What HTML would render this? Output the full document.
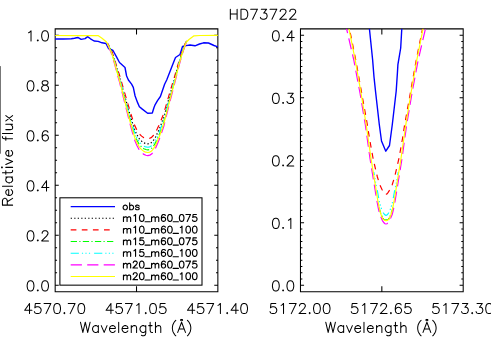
<!DOCTYPE html>
<html lang="en"><head><meta charset="utf-8"><title>HD73722</title>
<style>
html,body{margin:0;padding:0;width:491px;height:350px;overflow:hidden;background:#fff;font-family:"Liberation Sans",sans-serif}
svg{display:block}
.ax{fill:none;stroke:#000;stroke-width:1.05}
.t{fill:none;stroke:#000;stroke-width:1.03;stroke-linecap:round;stroke-linejoin:round}
.lt{fill:none;stroke:#000;stroke-width:1.15;stroke-linecap:round;stroke-linejoin:round}
.c{fill:none;stroke-width:1.2;stroke-linejoin:round}
</style></head>
<body>
<svg width="491" height="350" viewBox="0 0 491 350">
<rect width="491" height="350" fill="#fff"/>
<defs><clipPath id="cl"><rect x="55.17" y="28.86" width="162.69" height="262.89"/></clipPath><clipPath id="cr"><rect x="300.47" y="28.86" width="162.73" height="262.89"/></clipPath></defs>
<rect x="0" y="66.1" width="1" height="87.6" fill="#777"/>
<path class="ax" d="M55.17 28.86 H217.86 V291.75 H55.17 ZM136.52 291.75 L136.52 286.15M136.52 28.86 L136.52 34.46M300.47 28.86 H463.20 V291.75 H300.47 ZM381.84 291.75 L381.84 286.15M381.84 28.86 L381.84 34.46M55.17 285.30 L58.77 285.30M217.86 285.30 L214.26 285.30M55.17 272.80 L57.07 272.80M217.86 272.80 L215.96 272.80M55.17 260.30 L57.07 260.30M217.86 260.30 L215.96 260.30M55.17 247.80 L57.07 247.80M217.86 247.80 L215.96 247.80M55.17 235.30 L58.77 235.30M217.86 235.30 L214.26 235.30M55.17 222.80 L57.07 222.80M217.86 222.80 L215.96 222.80M55.17 210.30 L57.07 210.30M217.86 210.30 L215.96 210.30M55.17 197.80 L57.07 197.80M217.86 197.80 L215.96 197.80M55.17 185.30 L58.77 185.30M217.86 185.30 L214.26 185.30M55.17 172.80 L57.07 172.80M217.86 172.80 L215.96 172.80M55.17 160.30 L57.07 160.30M217.86 160.30 L215.96 160.30M55.17 147.80 L57.07 147.80M217.86 147.80 L215.96 147.80M55.17 135.30 L58.77 135.30M217.86 135.30 L214.26 135.30M55.17 122.80 L57.07 122.80M217.86 122.80 L215.96 122.80M55.17 110.30 L57.07 110.30M217.86 110.30 L215.96 110.30M55.17 97.80 L57.07 97.80M217.86 97.80 L215.96 97.80M55.17 85.30 L58.77 85.30M217.86 85.30 L214.26 85.30M55.17 72.80 L57.07 72.80M217.86 72.80 L215.96 72.80M55.17 60.30 L57.07 60.30M217.86 60.30 L215.96 60.30M55.17 47.80 L57.07 47.80M217.86 47.80 L215.96 47.80M55.17 35.30 L58.77 35.30M217.86 35.30 L214.26 35.30M300.47 285.30 L304.07 285.30M463.20 285.30 L459.60 285.30M300.47 279.05 L302.37 279.05M463.20 279.05 L461.30 279.05M300.47 272.80 L302.37 272.80M463.20 272.80 L461.30 272.80M300.47 266.55 L302.37 266.55M463.20 266.55 L461.30 266.55M300.47 260.30 L302.37 260.30M463.20 260.30 L461.30 260.30M300.47 254.05 L302.37 254.05M463.20 254.05 L461.30 254.05M300.47 247.80 L302.37 247.80M463.20 247.80 L461.30 247.80M300.47 241.55 L302.37 241.55M463.20 241.55 L461.30 241.55M300.47 235.30 L302.37 235.30M463.20 235.30 L461.30 235.30M300.47 229.05 L302.37 229.05M463.20 229.05 L461.30 229.05M300.47 222.80 L304.07 222.80M463.20 222.80 L459.60 222.80M300.47 216.55 L302.37 216.55M463.20 216.55 L461.30 216.55M300.47 210.30 L302.37 210.30M463.20 210.30 L461.30 210.30M300.47 204.05 L302.37 204.05M463.20 204.05 L461.30 204.05M300.47 197.80 L302.37 197.80M463.20 197.80 L461.30 197.80M300.47 191.55 L302.37 191.55M463.20 191.55 L461.30 191.55M300.47 185.30 L302.37 185.30M463.20 185.30 L461.30 185.30M300.47 179.05 L302.37 179.05M463.20 179.05 L461.30 179.05M300.47 172.80 L302.37 172.80M463.20 172.80 L461.30 172.80M300.47 166.55 L302.37 166.55M463.20 166.55 L461.30 166.55M300.47 160.30 L304.07 160.30M463.20 160.30 L459.60 160.30M300.47 154.05 L302.37 154.05M463.20 154.05 L461.30 154.05M300.47 147.80 L302.37 147.80M463.20 147.80 L461.30 147.80M300.47 141.55 L302.37 141.55M463.20 141.55 L461.30 141.55M300.47 135.30 L302.37 135.30M463.20 135.30 L461.30 135.30M300.47 129.05 L302.37 129.05M463.20 129.05 L461.30 129.05M300.47 122.80 L302.37 122.80M463.20 122.80 L461.30 122.80M300.47 116.55 L302.37 116.55M463.20 116.55 L461.30 116.55M300.47 110.30 L302.37 110.30M463.20 110.30 L461.30 110.30M300.47 104.05 L302.37 104.05M463.20 104.05 L461.30 104.05M300.47 97.80 L304.07 97.80M463.20 97.80 L459.60 97.80M300.47 91.55 L302.37 91.55M463.20 91.55 L461.30 91.55M300.47 85.30 L302.37 85.30M463.20 85.30 L461.30 85.30M300.47 79.05 L302.37 79.05M463.20 79.05 L461.30 79.05M300.47 72.80 L302.37 72.80M463.20 72.80 L461.30 72.80M300.47 66.55 L302.37 66.55M463.20 66.55 L461.30 66.55M300.47 60.30 L302.37 60.30M463.20 60.30 L461.30 60.30M300.47 54.05 L302.37 54.05M463.20 54.05 L461.30 54.05M300.47 47.80 L302.37 47.80M463.20 47.80 L461.30 47.80M300.47 41.55 L302.37 41.55M463.20 41.55 L461.30 41.55M300.47 35.30 L304.07 35.30M463.20 35.30 L459.60 35.30"/>
<g clip-path="url(#cl)">
<path class="c" style="stroke-width:1.4" stroke="#0000ff" d="M55.00 39.00 L63.00 39.00 L71.30 38.75 L74.50 38.20 L77.80 37.45 L81.10 39.40 L85.10 38.60 L87.60 36.60 L90.50 38.80 L94.10 41.00 L98.20 41.40 L102.00 42.80 L106.00 43.50 L108.50 48.50 L113.00 50.50 L116.50 56.80 L119.50 62.50 L125.00 67.50 L126.60 76.00 L128.40 80.00 L131.60 84.20 L133.30 87.30 L135.10 96.00 L137.70 102.90 L139.40 106.70 L142.00 108.90 L147.60 113.20 L152.30 113.00 L154.00 107.50 L155.20 104.60 L157.50 100.60 L160.40 96.50 L164.60 84.20 L166.70 80.00 L173.50 62.50 L175.50 57.50 L180.00 54.50 L182.50 46.50 L186.00 45.60 L190.00 45.00 L195.00 45.80 L199.50 44.00 L203.50 42.80 L208.50 43.00 L214.00 45.50 L218.10 46.90"/>
<path class="c" stroke="#000000" stroke-dasharray="1.3 2.2" stroke-dashoffset="1.34" d="M107.50 43.36 L109.00 46.14 L112.00 52.62 L114.50 60.49 L117.50 70.68 L119.40 76.70 L123.50 91.52 L127.11 104.48 L130.74 117.44 L132.79 123.93 L134.76 130.13 L136.97 134.85 L139.34 138.83 L141.62 141.15 L143.88 142.82 L145.88 143.56 L147.90 143.83 L149.83 143.46 L151.61 142.45 L153.53 140.22 L155.46 137.26 L157.42 133.19 L159.52 128.56 L161.56 123.28 L163.72 117.44 L170.00 94.66 L175.10 76.70 L178.50 64.20 L180.30 58.18 L183.00 49.85 L185.70 42.90 L186.50 41.51 L186.80 41.23"/>
<path class="c" stroke="#ff0000" stroke-dasharray="5.7 5.4" stroke-dashoffset="2.83" d="M107.50 42.99 L109.00 45.63 L112.00 51.81 L114.50 59.30 L117.50 69.00 L119.40 74.74 L123.50 88.85 L127.11 101.20 L130.74 113.55 L132.79 119.72 L134.76 125.63 L136.97 130.13 L139.34 133.92 L141.62 136.12 L143.88 137.71 L145.88 138.42 L147.90 138.68 L149.83 138.33 L151.61 137.36 L153.53 135.24 L155.46 132.42 L157.42 128.54 L159.52 124.13 L161.56 119.10 L163.72 113.55 L170.00 91.85 L175.10 74.74 L178.50 62.83 L180.30 57.10 L183.00 49.16 L185.70 42.54 L186.50 41.22 L186.80 40.96"/>
<path class="c" stroke="#00ff00" stroke-dasharray="6.3 2.3 1.2 2.3" stroke-dashoffset="9.68" d="M107.50 43.80 L109.00 46.73 L112.00 53.57 L114.50 61.88 L117.50 72.62 L119.40 78.97 L123.50 94.61 L127.11 108.28 L130.74 121.96 L132.79 128.80 L134.76 135.35 L136.97 140.33 L139.34 144.53 L141.62 146.97 L143.88 148.73 L145.88 149.51 L147.90 149.81 L149.83 149.42 L151.61 148.34 L153.53 146.00 L155.46 142.87 L157.42 138.57 L159.52 133.69 L161.56 128.12 L163.72 121.96 L170.00 97.93 L175.10 78.97 L178.50 65.78 L180.30 59.43 L183.00 50.64 L185.70 43.31 L186.50 41.85 L186.80 41.56"/>
<path class="c" stroke="#00ffff" stroke-dasharray="8.2 3 1.2 2.3 1.2 2.3 1.2 4.0" stroke-dashoffset="7.01" d="M107.50 43.61 L109.00 46.48 L112.00 53.16 L114.50 61.28 L117.50 71.79 L119.40 77.99 L123.50 93.27 L127.11 106.64 L130.74 120.01 L132.79 126.70 L134.76 133.10 L136.97 137.97 L139.34 142.07 L141.62 144.46 L143.88 146.18 L145.88 146.94 L147.90 147.23 L149.83 146.85 L151.61 145.80 L153.53 143.51 L155.46 140.45 L157.42 136.25 L159.52 131.47 L161.56 126.03 L163.72 120.01 L170.00 96.52 L175.10 77.99 L178.50 65.10 L180.30 58.89 L183.00 50.30 L185.70 43.14 L186.50 41.70 L186.80 41.42"/>
<path class="c" stroke="#ff00ff" stroke-dasharray="11.2 5.3" stroke-dashoffset="0.10" d="M107.50 44.55 L108.85 47.30 L111.86 54.48 L114.37 63.20 L117.38 74.49 L119.29 81.16 L123.40 97.58 L127.03 111.94 L130.67 126.30 L132.73 133.49 L134.71 140.36 L136.93 145.59 L139.31 150.00 L141.60 152.57 L143.87 154.42 L145.87 155.24 L147.90 155.54 L149.84 155.13 L151.62 154.01 L153.56 151.54 L155.49 148.26 L157.46 143.75 L159.56 138.62 L161.61 132.77 L163.79 126.30 L170.09 101.06 L175.21 81.16 L178.62 67.31 L180.43 60.64 L183.14 51.41 L185.85 43.71 L186.66 42.17 L186.80 42.02"/>
<path class="c" stroke="#ffff00" d="M55.00 35.50 L80.00 35.55 L98.00 35.55 L102.00 38.20 L106.50 42.00 L109.00 47.00 L112.00 54.00 L114.50 62.50 L117.50 73.50 L119.40 80.00 L123.50 96.00 L127.11 110.00 L130.74 124.00 L132.79 131.00 L134.76 137.70 L136.97 142.80 L139.34 147.10 L141.62 149.60 L143.88 151.40 L145.88 152.20 L147.90 152.50 L149.83 152.10 L151.61 151.00 L153.53 148.60 L155.46 145.40 L157.42 141.00 L159.52 136.00 L161.56 130.30 L163.72 124.00 L170.00 99.40 L175.10 80.00 L178.50 66.50 L180.30 60.00 L183.00 51.00 L185.70 43.50 L186.50 42.00 L189.00 39.50 L194.00 35.80 L200.00 35.50 L218.10 35.40"/>
</g>
<g clip-path="url(#cr)">
<path class="c" style="stroke-width:1.4" stroke="#0000ff" d="M369.40 28.50 L372.60 59.50 L374.00 77.00 L375.60 92.00 L379.30 124.50 L381.50 141.00 L385.80 151.20 L389.50 145.50 L392.30 124.50 L396.20 91.00 L397.40 73.00 L397.90 64.60 L400.70 48.00 L401.80 28.50"/>
<path class="c" stroke="#000000" stroke-dasharray="1.3 2.2" stroke-dashoffset="0.87" d="M381.70 216.00 L382.25 217.40 L383.55 219.40 L384.85 220.30 L386.00 220.40 L387.15 220.30 L388.45 219.40 L389.75 217.40 L390.30 216.00"/>
<path class="c" stroke="#ff0000" stroke-dasharray="5.7 5.4" stroke-dashoffset="6.70" d="M349.40 28.50 L355.75 60.00 L361.65 93.00 L367.40 125.00 L369.40 138.00 L371.90 152.00 L373.10 158.50 L374.80 166.00 L377.40 177.00 L379.90 185.00 L382.00 189.50 L384.00 192.60 L385.00 193.90 L386.00 194.30 L387.00 193.90 L388.00 192.60 L390.00 189.50 L392.10 185.00 L394.60 177.00 L397.20 166.00 L398.90 158.50 L400.10 152.00 L402.60 138.00 L404.60 125.00 L410.35 93.00 L416.25 60.00 L422.60 28.50"/>
<path class="c" stroke="#00ff00" stroke-dasharray="6.3 2.3 1.2 2.3" stroke-dashoffset="9.44" d="M378.69 205.00 L379.60 209.60 L381.15 214.60 L382.30 217.40 L383.70 219.20 L386.00 220.25 L388.30 219.20 L389.70 217.40 L390.85 214.60 L392.40 209.60 L393.31 205.00"/>
<path class="c" stroke="#00ffff" stroke-dasharray="8.2 3 1.2 2.3 1.2 2.3 1.2 4.0" stroke-dashoffset="5.02" d="M373.79 172.00 L376.10 185.00 L377.60 192.00 L379.40 202.00 L380.60 206.30 L381.90 210.00 L383.40 213.00 L384.80 214.80 L386.00 215.40 L387.20 214.80 L388.60 213.00 L390.10 210.00 L391.40 206.30 L392.60 202.00 L394.40 192.00 L395.90 185.00 L398.21 172.00"/>
<path class="c" stroke="#ff00ff" stroke-dasharray="11.2 5.3" stroke-dashoffset="6.41" d="M346.50 28.50 L353.80 60.00 L360.00 93.00 L365.35 125.00 L370.00 158.50 L374.30 185.00 L376.90 201.00 L378.60 209.60 L379.80 214.60 L381.10 217.60 L382.40 220.60 L384.00 222.80 L385.00 223.70 L386.00 224.00 L387.00 223.70 L388.00 222.80 L389.60 220.60 L390.90 217.60 L392.20 214.60 L393.40 209.60 L395.10 201.00 L397.70 185.00 L402.00 158.50 L406.65 125.00 L412.00 93.00 L418.20 60.00 L425.50 28.50"/>
<path class="c" stroke="#ffff00" d="M348.90 28.50 L355.20 60.00 L361.00 93.00 L366.25 125.00 L371.00 158.50 L375.30 185.00 L377.70 200.00 L379.60 209.60 L381.00 214.60 L382.10 217.40 L383.40 219.40 L384.70 220.30 L386.00 220.60 L387.30 220.30 L388.60 219.40 L389.90 217.40 L391.00 214.60 L392.40 209.60 L394.30 200.00 L396.70 185.00 L401.00 158.50 L405.75 125.00 L411.00 93.00 L416.80 60.00 L423.10 28.50"/>
</g>
<rect x="59.90" y="197.80" width="142.10" height="87.35" fill="#fff" stroke="#000" stroke-width="1.05"/>
<path class="c" style="stroke-width:1.1" stroke="#0000ff" d="M70.7 206.60 H115"/>
<path class="c" style="stroke-width:1.1" stroke="#000000" stroke-dasharray="1.3 2.2" d="M70.7 218.25 H115"/>
<path class="c" style="stroke-width:1.1" stroke="#ff0000" stroke-dasharray="5.7 5.4" d="M70.7 229.90 H115"/>
<path class="c" style="stroke-width:1.1" stroke="#00ff00" stroke-dasharray="6.3 2.3 1.2 2.3" d="M70.7 241.55 H115"/>
<path class="c" style="stroke-width:1.1" stroke="#00ffff" stroke-dasharray="8.2 3 1.2 2.3 1.2 2.3 1.2 4.0" d="M70.7 253.20 H115"/>
<path class="c" style="stroke-width:1.1" stroke="#ff00ff" stroke-dasharray="11.2 5.3" d="M70.7 264.85 H115"/>
<path class="c" style="stroke-width:1.1" stroke="#ffff00" d="M70.7 276.50 H115"/>
<g><title>obs</title><path class="lt" d="M124.77 205.17L124.11 205.50L123.46 206.15L123.13 207.13L123.13 207.79L123.46 208.77L124.11 209.42L124.77 209.75L125.75 209.75L126.40 209.42L127.06 208.77L127.38 207.79L127.38 207.13L127.06 206.15L126.40 205.50L125.75 205.17L124.77 205.17M129.67 202.88L129.67 209.75M129.67 206.15L130.33 205.50L130.98 205.17L131.96 205.17L132.61 205.50L133.27 206.15L133.59 207.13L133.59 207.79L133.27 208.77L132.61 209.42L131.96 209.75L130.98 209.75L130.33 209.42L129.67 208.77M139.15 206.15L138.83 205.50L137.85 205.17L136.87 205.17L135.88 205.50L135.56 206.15L135.88 206.81L136.54 207.13L138.17 207.46L138.83 207.79L139.15 208.44L139.15 208.77L138.83 209.42L137.85 209.75L136.87 209.75L135.88 209.42L135.56 208.77"/></g>
<g><title>m10_m60_075</title><path class="lt" d="M123.46 216.82L123.46 221.40M123.46 218.13L124.44 217.15L125.09 216.82L126.07 216.82L126.73 217.15L127.06 218.13L127.06 221.40M127.06 218.13L128.04 217.15L128.69 216.82L129.67 216.82L130.33 217.15L130.65 218.13L130.65 221.40M133.92 215.84L134.58 215.51L135.56 214.53L135.56 221.40M141.44 214.53L140.46 214.86L139.81 215.84L139.48 217.48L139.48 218.46L139.81 220.09L140.46 221.07L141.44 221.40L142.10 221.40L143.08 221.07L143.73 220.09L144.06 218.46L144.06 217.48L143.73 215.84L143.08 214.86L142.10 214.53L141.44 214.53M145.04 221.79L150.27 221.79M151.58 216.82L151.58 221.40M151.58 218.13L152.56 217.15L153.22 216.82L154.20 216.82L154.85 217.15L155.18 218.13L155.18 221.40M155.18 218.13L156.16 217.15L156.81 216.82L157.79 216.82L158.45 217.15L158.77 218.13L158.77 221.40M165.31 215.51L164.99 214.86L164.01 214.53L163.35 214.53L162.37 214.86L161.72 215.84L161.39 217.48L161.39 219.11L161.72 220.42L162.37 221.07L163.35 221.40L163.68 221.40L164.66 221.07L165.31 220.42L165.64 219.44L165.64 219.11L165.31 218.13L164.66 217.48L163.68 217.15L163.35 217.15L162.37 217.48L161.72 218.13L161.39 219.11M169.56 214.53L168.58 214.86L167.93 215.84L167.60 217.48L167.60 218.46L167.93 220.09L168.58 221.07L169.56 221.40L170.22 221.40L171.20 221.07L171.85 220.09L172.18 218.46L172.18 217.48L171.85 215.84L171.20 214.86L170.22 214.53L169.56 214.53M173.16 221.79L178.39 221.79M181.34 214.53L180.36 214.86L179.70 215.84L179.38 217.48L179.38 218.46L179.70 220.09L180.36 221.07L181.34 221.40L181.99 221.40L182.97 221.07L183.63 220.09L183.95 218.46L183.95 217.48L183.63 215.84L182.97 214.86L181.99 214.53L181.34 214.53M190.49 214.53L187.22 221.40M185.92 214.53L190.49 214.53M196.38 214.53L193.11 214.53L192.78 217.48L193.11 217.15L194.09 216.82L195.07 216.82L196.05 217.15L196.71 217.80L197.03 218.78L197.03 219.44L196.71 220.42L196.05 221.07L195.07 221.40L194.09 221.40L193.11 221.07L192.78 220.75L192.45 220.09"/></g>
<g><title>m10_m60_100</title><path class="lt" d="M123.46 228.47L123.46 233.05M123.46 229.78L124.44 228.80L125.09 228.47L126.07 228.47L126.73 228.80L127.06 229.78L127.06 233.05M127.06 229.78L128.04 228.80L128.69 228.47L129.67 228.47L130.33 228.80L130.65 229.78L130.65 233.05M133.92 227.49L134.58 227.16L135.56 226.18L135.56 233.05M141.44 226.18L140.46 226.51L139.81 227.49L139.48 229.13L139.48 230.11L139.81 231.74L140.46 232.72L141.44 233.05L142.10 233.05L143.08 232.72L143.73 231.74L144.06 230.11L144.06 229.13L143.73 227.49L143.08 226.51L142.10 226.18L141.44 226.18M145.04 233.44L150.27 233.44M151.58 228.47L151.58 233.05M151.58 229.78L152.56 228.80L153.22 228.47L154.20 228.47L154.85 228.80L155.18 229.78L155.18 233.05M155.18 229.78L156.16 228.80L156.81 228.47L157.79 228.47L158.45 228.80L158.77 229.78L158.77 233.05M165.31 227.16L164.99 226.51L164.01 226.18L163.35 226.18L162.37 226.51L161.72 227.49L161.39 229.13L161.39 230.76L161.72 232.07L162.37 232.72L163.35 233.05L163.68 233.05L164.66 232.72L165.31 232.07L165.64 231.09L165.64 230.76L165.31 229.78L164.66 229.13L163.68 228.80L163.35 228.80L162.37 229.13L161.72 229.78L161.39 230.76M169.56 226.18L168.58 226.51L167.93 227.49L167.60 229.13L167.60 230.11L167.93 231.74L168.58 232.72L169.56 233.05L170.22 233.05L171.20 232.72L171.85 231.74L172.18 230.11L172.18 229.13L171.85 227.49L171.20 226.51L170.22 226.18L169.56 226.18M173.16 233.44L178.39 233.44M180.36 227.49L181.01 227.16L181.99 226.18L181.99 233.05M187.88 226.18L186.90 226.51L186.24 227.49L185.92 229.13L185.92 230.11L186.24 231.74L186.90 232.72L187.88 233.05L188.53 233.05L189.51 232.72L190.17 231.74L190.49 230.11L190.49 229.13L190.17 227.49L189.51 226.51L188.53 226.18L187.88 226.18M194.42 226.18L193.44 226.51L192.78 227.49L192.45 229.13L192.45 230.11L192.78 231.74L193.44 232.72L194.42 233.05L195.07 233.05L196.05 232.72L196.71 231.74L197.03 230.11L197.03 229.13L196.71 227.49L196.05 226.51L195.07 226.18L194.42 226.18"/></g>
<g><title>m15_m60_075</title><path class="lt" d="M123.46 240.12L123.46 244.70M123.46 241.43L124.44 240.45L125.09 240.12L126.07 240.12L126.73 240.45L127.06 241.43L127.06 244.70M127.06 241.43L128.04 240.45L128.69 240.12L129.67 240.12L130.33 240.45L130.65 241.43L130.65 244.70M133.92 239.14L134.58 238.81L135.56 237.83L135.56 244.70M143.41 237.83L140.14 237.83L139.81 240.78L140.14 240.45L141.12 240.12L142.10 240.12L143.08 240.45L143.73 241.10L144.06 242.08L144.06 242.74L143.73 243.72L143.08 244.37L142.10 244.70L141.12 244.70L140.14 244.37L139.81 244.05L139.48 243.39M145.04 245.09L150.27 245.09M151.58 240.12L151.58 244.70M151.58 241.43L152.56 240.45L153.22 240.12L154.20 240.12L154.85 240.45L155.18 241.43L155.18 244.70M155.18 241.43L156.16 240.45L156.81 240.12L157.79 240.12L158.45 240.45L158.77 241.43L158.77 244.70M165.31 238.81L164.99 238.16L164.01 237.83L163.35 237.83L162.37 238.16L161.72 239.14L161.39 240.78L161.39 242.41L161.72 243.72L162.37 244.37L163.35 244.70L163.68 244.70L164.66 244.37L165.31 243.72L165.64 242.74L165.64 242.41L165.31 241.43L164.66 240.78L163.68 240.45L163.35 240.45L162.37 240.78L161.72 241.43L161.39 242.41M169.56 237.83L168.58 238.16L167.93 239.14L167.60 240.78L167.60 241.76L167.93 243.39L168.58 244.37L169.56 244.70L170.22 244.70L171.20 244.37L171.85 243.39L172.18 241.76L172.18 240.78L171.85 239.14L171.20 238.16L170.22 237.83L169.56 237.83M173.16 245.09L178.39 245.09M181.34 237.83L180.36 238.16L179.70 239.14L179.38 240.78L179.38 241.76L179.70 243.39L180.36 244.37L181.34 244.70L181.99 244.70L182.97 244.37L183.63 243.39L183.95 241.76L183.95 240.78L183.63 239.14L182.97 238.16L181.99 237.83L181.34 237.83M190.49 237.83L187.22 244.70M185.92 237.83L190.49 237.83M196.38 237.83L193.11 237.83L192.78 240.78L193.11 240.45L194.09 240.12L195.07 240.12L196.05 240.45L196.71 241.10L197.03 242.08L197.03 242.74L196.71 243.72L196.05 244.37L195.07 244.70L194.09 244.70L193.11 244.37L192.78 244.05L192.45 243.39"/></g>
<g><title>m15_m60_100</title><path class="lt" d="M123.46 251.77L123.46 256.35M123.46 253.08L124.44 252.10L125.09 251.77L126.07 251.77L126.73 252.10L127.06 253.08L127.06 256.35M127.06 253.08L128.04 252.10L128.69 251.77L129.67 251.77L130.33 252.10L130.65 253.08L130.65 256.35M133.92 250.79L134.58 250.46L135.56 249.48L135.56 256.35M143.41 249.48L140.14 249.48L139.81 252.43L140.14 252.10L141.12 251.77L142.10 251.77L143.08 252.10L143.73 252.75L144.06 253.73L144.06 254.39L143.73 255.37L143.08 256.02L142.10 256.35L141.12 256.35L140.14 256.02L139.81 255.70L139.48 255.04M145.04 256.74L150.27 256.74M151.58 251.77L151.58 256.35M151.58 253.08L152.56 252.10L153.22 251.77L154.20 251.77L154.85 252.10L155.18 253.08L155.18 256.35M155.18 253.08L156.16 252.10L156.81 251.77L157.79 251.77L158.45 252.10L158.77 253.08L158.77 256.35M165.31 250.46L164.99 249.81L164.01 249.48L163.35 249.48L162.37 249.81L161.72 250.79L161.39 252.43L161.39 254.06L161.72 255.37L162.37 256.02L163.35 256.35L163.68 256.35L164.66 256.02L165.31 255.37L165.64 254.39L165.64 254.06L165.31 253.08L164.66 252.43L163.68 252.10L163.35 252.10L162.37 252.43L161.72 253.08L161.39 254.06M169.56 249.48L168.58 249.81L167.93 250.79L167.60 252.43L167.60 253.41L167.93 255.04L168.58 256.02L169.56 256.35L170.22 256.35L171.20 256.02L171.85 255.04L172.18 253.41L172.18 252.43L171.85 250.79L171.20 249.81L170.22 249.48L169.56 249.48M173.16 256.74L178.39 256.74M180.36 250.79L181.01 250.46L181.99 249.48L181.99 256.35M187.88 249.48L186.90 249.81L186.24 250.79L185.92 252.43L185.92 253.41L186.24 255.04L186.90 256.02L187.88 256.35L188.53 256.35L189.51 256.02L190.17 255.04L190.49 253.41L190.49 252.43L190.17 250.79L189.51 249.81L188.53 249.48L187.88 249.48M194.42 249.48L193.44 249.81L192.78 250.79L192.45 252.43L192.45 253.41L192.78 255.04L193.44 256.02L194.42 256.35L195.07 256.35L196.05 256.02L196.71 255.04L197.03 253.41L197.03 252.43L196.71 250.79L196.05 249.81L195.07 249.48L194.42 249.48"/></g>
<g><title>m20_m60_075</title><path class="lt" d="M123.46 263.42L123.46 268.00M123.46 264.73L124.44 263.75L125.09 263.42L126.07 263.42L126.73 263.75L127.06 264.73L127.06 268.00M127.06 264.73L128.04 263.75L128.69 263.42L129.67 263.42L130.33 263.75L130.65 264.73L130.65 268.00M133.27 262.77L133.27 262.44L133.59 261.79L133.92 261.46L134.58 261.13L135.88 261.13L136.54 261.46L136.87 261.79L137.19 262.44L137.19 263.10L136.87 263.75L136.21 264.73L132.94 268.00L137.52 268.00M141.44 261.13L140.46 261.46L139.81 262.44L139.48 264.08L139.48 265.06L139.81 266.69L140.46 267.67L141.44 268.00L142.10 268.00L143.08 267.67L143.73 266.69L144.06 265.06L144.06 264.08L143.73 262.44L143.08 261.46L142.10 261.13L141.44 261.13M145.04 268.39L150.27 268.39M151.58 263.42L151.58 268.00M151.58 264.73L152.56 263.75L153.22 263.42L154.20 263.42L154.85 263.75L155.18 264.73L155.18 268.00M155.18 264.73L156.16 263.75L156.81 263.42L157.79 263.42L158.45 263.75L158.77 264.73L158.77 268.00M165.31 262.11L164.99 261.46L164.01 261.13L163.35 261.13L162.37 261.46L161.72 262.44L161.39 264.08L161.39 265.71L161.72 267.02L162.37 267.67L163.35 268.00L163.68 268.00L164.66 267.67L165.31 267.02L165.64 266.04L165.64 265.71L165.31 264.73L164.66 264.08L163.68 263.75L163.35 263.75L162.37 264.08L161.72 264.73L161.39 265.71M169.56 261.13L168.58 261.46L167.93 262.44L167.60 264.08L167.60 265.06L167.93 266.69L168.58 267.67L169.56 268.00L170.22 268.00L171.20 267.67L171.85 266.69L172.18 265.06L172.18 264.08L171.85 262.44L171.20 261.46L170.22 261.13L169.56 261.13M173.16 268.39L178.39 268.39M181.34 261.13L180.36 261.46L179.70 262.44L179.38 264.08L179.38 265.06L179.70 266.69L180.36 267.67L181.34 268.00L181.99 268.00L182.97 267.67L183.63 266.69L183.95 265.06L183.95 264.08L183.63 262.44L182.97 261.46L181.99 261.13L181.34 261.13M190.49 261.13L187.22 268.00M185.92 261.13L190.49 261.13M196.38 261.13L193.11 261.13L192.78 264.08L193.11 263.75L194.09 263.42L195.07 263.42L196.05 263.75L196.71 264.40L197.03 265.38L197.03 266.04L196.71 267.02L196.05 267.67L195.07 268.00L194.09 268.00L193.11 267.67L192.78 267.35L192.45 266.69"/></g>
<g><title>m20_m60_100</title><path class="lt" d="M123.46 275.07L123.46 279.65M123.46 276.38L124.44 275.40L125.09 275.07L126.07 275.07L126.73 275.40L127.06 276.38L127.06 279.65M127.06 276.38L128.04 275.40L128.69 275.07L129.67 275.07L130.33 275.40L130.65 276.38L130.65 279.65M133.27 274.42L133.27 274.09L133.59 273.44L133.92 273.11L134.58 272.78L135.88 272.78L136.54 273.11L136.87 273.44L137.19 274.09L137.19 274.75L136.87 275.40L136.21 276.38L132.94 279.65L137.52 279.65M141.44 272.78L140.46 273.11L139.81 274.09L139.48 275.73L139.48 276.71L139.81 278.34L140.46 279.32L141.44 279.65L142.10 279.65L143.08 279.32L143.73 278.34L144.06 276.71L144.06 275.73L143.73 274.09L143.08 273.11L142.10 272.78L141.44 272.78M145.04 280.04L150.27 280.04M151.58 275.07L151.58 279.65M151.58 276.38L152.56 275.40L153.22 275.07L154.20 275.07L154.85 275.40L155.18 276.38L155.18 279.65M155.18 276.38L156.16 275.40L156.81 275.07L157.79 275.07L158.45 275.40L158.77 276.38L158.77 279.65M165.31 273.76L164.99 273.11L164.01 272.78L163.35 272.78L162.37 273.11L161.72 274.09L161.39 275.73L161.39 277.36L161.72 278.67L162.37 279.32L163.35 279.65L163.68 279.65L164.66 279.32L165.31 278.67L165.64 277.69L165.64 277.36L165.31 276.38L164.66 275.73L163.68 275.40L163.35 275.40L162.37 275.73L161.72 276.38L161.39 277.36M169.56 272.78L168.58 273.11L167.93 274.09L167.60 275.73L167.60 276.71L167.93 278.34L168.58 279.32L169.56 279.65L170.22 279.65L171.20 279.32L171.85 278.34L172.18 276.71L172.18 275.73L171.85 274.09L171.20 273.11L170.22 272.78L169.56 272.78M173.16 280.04L178.39 280.04M180.36 274.09L181.01 273.76L181.99 272.78L181.99 279.65M187.88 272.78L186.90 273.11L186.24 274.09L185.92 275.73L185.92 276.71L186.24 278.34L186.90 279.32L187.88 279.65L188.53 279.65L189.51 279.32L190.17 278.34L190.49 276.71L190.49 275.73L190.17 274.09L189.51 273.11L188.53 272.78L187.88 272.78M194.42 272.78L193.44 273.11L192.78 274.09L192.45 275.73L192.45 276.71L192.78 278.34L193.44 279.32L194.42 279.65L195.07 279.65L196.05 279.32L196.71 278.34L197.03 276.71L197.03 275.73L196.71 274.09L196.05 273.11L195.07 272.78L194.42 272.78"/></g>
<g><title>HD73722</title><path class="t" d="M230.33 9.14L230.33 19.30M237.11 9.14L237.11 19.30M230.33 13.98L237.11 13.98M240.98 9.14L240.98 19.30M240.98 9.14L244.37 9.14L245.82 9.62L246.79 10.59L247.27 11.56L247.75 13.01L247.75 15.43L247.27 16.88L246.79 17.85L245.82 18.82L244.37 19.30L240.98 19.30M257.43 9.14L252.59 19.30M250.66 9.14L257.43 9.14M261.31 9.14L266.63 9.14L263.73 13.01L265.18 13.01L266.15 13.49L266.63 13.98L267.11 15.43L267.11 16.40L266.63 17.85L265.66 18.82L264.21 19.30L262.76 19.30L261.31 18.82L260.82 18.33L260.34 17.36M276.79 9.14L271.95 19.30M270.02 9.14L276.79 9.14M280.18 11.56L280.18 11.07L280.67 10.10L281.15 9.62L282.12 9.14L284.05 9.14L285.02 9.62L285.51 10.10L285.99 11.07L285.99 12.04L285.51 13.01L284.54 14.46L279.70 19.30L286.47 19.30M289.86 11.56L289.86 11.07L290.35 10.10L290.83 9.62L291.80 9.14L293.73 9.14L294.70 9.62L295.19 10.10L295.67 11.07L295.67 12.04L295.19 13.01L294.22 14.46L289.38 19.30L296.15 19.30"/></g>
<g><title>0.0</title><path class="t" d="M30.06 280.79L28.60 281.27L27.64 282.72L27.15 285.14L27.15 286.59L27.64 289.01L28.60 290.47L30.06 290.95L31.02 290.95L32.48 290.47L33.44 289.01L33.93 286.59L33.93 285.14L33.44 282.72L32.48 281.27L31.02 280.79L30.06 280.79M37.80 289.98L37.32 290.47L37.80 290.95L38.28 290.47L37.80 289.98M44.58 280.79L43.12 281.27L42.16 282.72L41.67 285.14L41.67 286.59L42.16 289.01L43.12 290.47L44.58 290.95L45.54 290.95L47.00 290.47L47.96 289.01L48.45 286.59L48.45 285.14L47.96 282.72L47.00 281.27L45.54 280.79L44.58 280.79"/></g>
<g><title>0.2</title><path class="t" d="M30.06 230.79L28.60 231.27L27.64 232.72L27.15 235.14L27.15 236.59L27.64 239.01L28.60 240.47L30.06 240.95L31.02 240.95L32.48 240.47L33.44 239.01L33.93 236.59L33.93 235.14L33.44 232.72L32.48 231.27L31.02 230.79L30.06 230.79M37.80 239.98L37.32 240.47L37.80 240.95L38.28 240.47L37.80 239.98M42.16 233.21L42.16 232.72L42.64 231.75L43.12 231.27L44.09 230.79L46.03 230.79L47.00 231.27L47.48 231.75L47.96 232.72L47.96 233.69L47.48 234.66L46.51 236.11L41.67 240.95L48.45 240.95"/></g>
<g><title>0.4</title><path class="t" d="M30.06 180.79L28.60 181.27L27.64 182.72L27.15 185.14L27.15 186.59L27.64 189.01L28.60 190.47L30.06 190.95L31.02 190.95L32.48 190.47L33.44 189.01L33.93 186.59L33.93 185.14L33.44 182.72L32.48 181.27L31.02 180.79L30.06 180.79M37.80 189.98L37.32 190.47L37.80 190.95L38.28 190.47L37.80 189.98M46.51 180.79L41.67 187.56L48.93 187.56M46.51 180.79L46.51 190.95"/></g>
<g><title>0.6</title><path class="t" d="M30.06 130.79L28.60 131.27L27.64 132.72L27.15 135.14L27.15 136.59L27.64 139.01L28.60 140.47L30.06 140.95L31.02 140.95L32.48 140.47L33.44 139.01L33.93 136.59L33.93 135.14L33.44 132.72L32.48 131.27L31.02 130.79L30.06 130.79M37.80 139.98L37.32 140.47L37.80 140.95L38.28 140.47L37.80 139.98M47.96 132.24L47.48 131.27L46.03 130.79L45.06 130.79L43.61 131.27L42.64 132.72L42.16 135.14L42.16 137.56L42.64 139.50L43.61 140.47L45.06 140.95L45.54 140.95L47.00 140.47L47.96 139.50L48.45 138.05L48.45 137.56L47.96 136.11L47.00 135.14L45.54 134.66L45.06 134.66L43.61 135.14L42.64 136.11L42.16 137.56"/></g>
<g><title>0.8</title><path class="t" d="M30.06 80.79L28.60 81.27L27.64 82.72L27.15 85.14L27.15 86.59L27.64 89.01L28.60 90.47L30.06 90.95L31.02 90.95L32.48 90.47L33.44 89.01L33.93 86.59L33.93 85.14L33.44 82.72L32.48 81.27L31.02 80.79L30.06 80.79M37.80 89.98L37.32 90.47L37.80 90.95L38.28 90.47L37.80 89.98M44.09 80.79L42.64 81.27L42.16 82.24L42.16 83.21L42.64 84.17L43.61 84.66L45.54 85.14L47.00 85.63L47.96 86.59L48.45 87.56L48.45 89.01L47.96 89.98L47.48 90.47L46.03 90.95L44.09 90.95L42.64 90.47L42.16 89.98L41.67 89.01L41.67 87.56L42.16 86.59L43.12 85.63L44.58 85.14L46.51 84.66L47.48 84.17L47.96 83.21L47.96 82.24L47.48 81.27L46.03 80.79L44.09 80.79"/></g>
<g><title>1.0</title><path class="t" d="M28.60 32.72L29.57 32.24L31.02 30.79L31.02 40.95M37.80 39.98L37.32 40.47L37.80 40.95L38.28 40.47L37.80 39.98M44.58 30.79L43.12 31.27L42.16 32.72L41.67 35.14L41.67 36.59L42.16 39.01L43.12 40.47L44.58 40.95L45.54 40.95L47.00 40.47L47.96 39.01L48.45 36.59L48.45 35.14L47.96 32.72L47.00 31.27L45.54 30.79L44.58 30.79"/></g>
<g><title>0.0</title><path class="t" d="M275.36 280.79L273.90 281.27L272.94 282.72L272.45 285.14L272.45 286.59L272.94 289.01L273.90 290.47L275.36 290.95L276.32 290.95L277.78 290.47L278.74 289.01L279.23 286.59L279.23 285.14L278.74 282.72L277.78 281.27L276.32 280.79L275.36 280.79M283.10 289.98L282.62 290.47L283.10 290.95L283.58 290.47L283.10 289.98M289.88 280.79L288.42 281.27L287.46 282.72L286.97 285.14L286.97 286.59L287.46 289.01L288.42 290.47L289.88 290.95L290.84 290.95L292.30 290.47L293.26 289.01L293.75 286.59L293.75 285.14L293.26 282.72L292.30 281.27L290.84 280.79L289.88 280.79"/></g>
<g><title>0.1</title><path class="t" d="M275.36 218.29L273.90 218.77L272.94 220.22L272.45 222.64L272.45 224.09L272.94 226.51L273.90 227.97L275.36 228.45L276.32 228.45L277.78 227.97L278.74 226.51L279.23 224.09L279.23 222.64L278.74 220.22L277.78 218.77L276.32 218.29L275.36 218.29M283.10 227.48L282.62 227.97L283.10 228.45L283.58 227.97L283.10 227.48M288.42 220.22L289.39 219.74L290.84 218.29L290.84 228.45"/></g>
<g><title>0.2</title><path class="t" d="M275.36 155.79L273.90 156.27L272.94 157.72L272.45 160.14L272.45 161.59L272.94 164.01L273.90 165.47L275.36 165.95L276.32 165.95L277.78 165.47L278.74 164.01L279.23 161.59L279.23 160.14L278.74 157.72L277.78 156.27L276.32 155.79L275.36 155.79M283.10 164.98L282.62 165.47L283.10 165.95L283.58 165.47L283.10 164.98M287.46 158.21L287.46 157.72L287.94 156.75L288.42 156.27L289.39 155.79L291.33 155.79L292.30 156.27L292.78 156.75L293.26 157.72L293.26 158.69L292.78 159.66L291.81 161.11L286.97 165.95L293.75 165.95"/></g>
<g><title>0.3</title><path class="t" d="M275.36 93.29L273.90 93.77L272.94 95.22L272.45 97.64L272.45 99.09L272.94 101.51L273.90 102.97L275.36 103.45L276.32 103.45L277.78 102.97L278.74 101.51L279.23 99.09L279.23 97.64L278.74 95.22L277.78 93.77L276.32 93.29L275.36 93.29M283.10 102.48L282.62 102.97L283.10 103.45L283.58 102.97L283.10 102.48M287.94 93.29L293.26 93.29L290.36 97.16L291.81 97.16L292.78 97.64L293.26 98.13L293.75 99.58L293.75 100.55L293.26 102.00L292.30 102.97L290.84 103.45L289.39 103.45L287.94 102.97L287.46 102.48L286.97 101.51"/></g>
<g><title>0.4</title><path class="t" d="M275.36 30.79L273.90 31.27L272.94 32.72L272.45 35.14L272.45 36.59L272.94 39.01L273.90 40.47L275.36 40.95L276.32 40.95L277.78 40.47L278.74 39.01L279.23 36.59L279.23 35.14L278.74 32.72L277.78 31.27L276.32 30.79L275.36 30.79M283.10 39.98L282.62 40.47L283.10 40.95L283.58 40.47L283.10 39.98M291.81 30.79L286.97 37.56L294.23 37.56M291.81 30.79L291.81 40.95"/></g>
<g><title>4570.70</title><path class="t" d="M29.53 303.44L24.69 310.21L31.95 310.21M29.53 303.44L29.53 313.60M40.18 303.44L35.34 303.44L34.86 307.79L35.34 307.31L36.79 306.82L38.24 306.82L39.70 307.31L40.66 308.28L41.15 309.73L41.15 310.70L40.66 312.15L39.70 313.12L38.24 313.60L36.79 313.60L35.34 313.12L34.86 312.63L34.37 311.66M50.83 303.44L45.99 313.60M44.05 303.44L50.83 303.44M56.64 303.44L55.18 303.92L54.22 305.37L53.73 307.79L53.73 309.24L54.22 311.66L55.18 313.12L56.64 313.60L57.60 313.60L59.06 313.12L60.02 311.66L60.51 309.24L60.51 307.79L60.02 305.37L59.06 303.92L57.60 303.44L56.64 303.44M64.38 312.63L63.90 313.12L64.38 313.60L64.86 313.12L64.38 312.63M75.03 303.44L70.19 313.60M68.25 303.44L75.03 303.44M80.84 303.44L79.38 303.92L78.42 305.37L77.93 307.79L77.93 309.24L78.42 311.66L79.38 313.12L80.84 313.60L81.80 313.60L83.26 313.12L84.22 311.66L84.71 309.24L84.71 307.79L84.22 305.37L83.26 303.92L81.80 303.44L80.84 303.44"/></g>
<g><title>4571.05</title><path class="t" d="M110.93 303.44L106.09 310.21L113.35 310.21M110.93 303.44L110.93 313.60M121.58 303.44L116.74 303.44L116.26 307.79L116.74 307.31L118.19 306.82L119.64 306.82L121.10 307.31L122.06 308.28L122.55 309.73L122.55 310.70L122.06 312.15L121.10 313.12L119.64 313.60L118.19 313.60L116.74 313.12L116.26 312.63L115.77 311.66M132.23 303.44L127.39 313.60M125.45 303.44L132.23 303.44M136.58 305.37L137.55 304.89L139.00 303.44L139.00 313.60M145.78 312.63L145.30 313.12L145.78 313.60L146.26 313.12L145.78 312.63M152.56 303.44L151.10 303.92L150.14 305.37L149.65 307.79L149.65 309.24L150.14 311.66L151.10 313.12L152.56 313.60L153.52 313.60L154.98 313.12L155.94 311.66L156.43 309.24L156.43 307.79L155.94 305.37L154.98 303.92L153.52 303.44L152.56 303.44M165.14 303.44L160.30 303.44L159.82 307.79L160.30 307.31L161.75 306.82L163.20 306.82L164.66 307.31L165.62 308.28L166.11 309.73L166.11 310.70L165.62 312.15L164.66 313.12L163.20 313.60L161.75 313.60L160.30 313.12L159.82 312.63L159.33 311.66"/></g>
<g><title>4571.40</title><path class="t" d="M192.33 303.44L187.49 310.21L194.75 310.21M192.33 303.44L192.33 313.60M202.98 303.44L198.14 303.44L197.66 307.79L198.14 307.31L199.59 306.82L201.04 306.82L202.50 307.31L203.46 308.28L203.95 309.73L203.95 310.70L203.46 312.15L202.50 313.12L201.04 313.60L199.59 313.60L198.14 313.12L197.66 312.63L197.17 311.66M213.63 303.44L208.79 313.60M206.85 303.44L213.63 303.44M217.98 305.37L218.95 304.89L220.40 303.44L220.40 313.60M227.18 312.63L226.70 313.12L227.18 313.60L227.66 313.12L227.18 312.63M235.89 303.44L231.05 310.21L238.31 310.21M235.89 303.44L235.89 313.60M243.64 303.44L242.18 303.92L241.22 305.37L240.73 307.79L240.73 309.24L241.22 311.66L242.18 313.12L243.64 313.60L244.60 313.60L246.06 313.12L247.02 311.66L247.51 309.24L247.51 307.79L247.02 305.37L246.06 303.92L244.60 303.44L243.64 303.44"/></g>
<g><title>5172.00</title><path class="t" d="M275.80 303.44L270.96 303.44L270.48 307.79L270.96 307.31L272.41 306.82L273.86 306.82L275.32 307.31L276.28 308.28L276.77 309.73L276.77 310.70L276.28 312.15L275.32 313.12L273.86 313.60L272.41 313.60L270.96 313.12L270.48 312.63L269.99 311.66M281.12 305.37L282.09 304.89L283.54 303.44L283.54 313.60M296.13 303.44L291.29 313.60M289.35 303.44L296.13 303.44M299.52 305.86L299.52 305.37L300.00 304.40L300.48 303.92L301.45 303.44L303.39 303.44L304.36 303.92L304.84 304.40L305.32 305.37L305.32 306.34L304.84 307.31L303.87 308.76L299.03 313.60L305.81 313.60M309.68 312.63L309.20 313.12L309.68 313.60L310.16 313.12L309.68 312.63M316.46 303.44L315.00 303.92L314.04 305.37L313.55 307.79L313.55 309.24L314.04 311.66L315.00 313.12L316.46 313.60L317.42 313.60L318.88 313.12L319.84 311.66L320.33 309.24L320.33 307.79L319.84 305.37L318.88 303.92L317.42 303.44L316.46 303.44M326.14 303.44L324.68 303.92L323.72 305.37L323.23 307.79L323.23 309.24L323.72 311.66L324.68 313.12L326.14 313.60L327.10 313.60L328.56 313.12L329.52 311.66L330.01 309.24L330.01 307.79L329.52 305.37L328.56 303.92L327.10 303.44L326.14 303.44"/></g>
<g><title>5172.65</title><path class="t" d="M357.05 303.44L352.21 303.44L351.73 307.79L352.21 307.31L353.66 306.82L355.11 306.82L356.57 307.31L357.53 308.28L358.02 309.73L358.02 310.70L357.53 312.15L356.57 313.12L355.11 313.60L353.66 313.60L352.21 313.12L351.73 312.63L351.24 311.66M362.37 305.37L363.34 304.89L364.79 303.44L364.79 313.60M377.38 303.44L372.54 313.60M370.60 303.44L377.38 303.44M380.77 305.86L380.77 305.37L381.25 304.40L381.73 303.92L382.70 303.44L384.64 303.44L385.61 303.92L386.09 304.40L386.57 305.37L386.57 306.34L386.09 307.31L385.12 308.76L380.28 313.60L387.06 313.60M390.93 312.63L390.45 313.12L390.93 313.60L391.41 313.12L390.93 312.63M401.09 304.89L400.61 303.92L399.16 303.44L398.19 303.44L396.74 303.92L395.77 305.37L395.29 307.79L395.29 310.21L395.77 312.15L396.74 313.12L398.19 313.60L398.67 313.60L400.13 313.12L401.09 312.15L401.58 310.70L401.58 310.21L401.09 308.76L400.13 307.79L398.67 307.31L398.19 307.31L396.74 307.79L395.77 308.76L395.29 310.21M410.29 303.44L405.45 303.44L404.97 307.79L405.45 307.31L406.90 306.82L408.35 306.82L409.81 307.31L410.77 308.28L411.26 309.73L411.26 310.70L410.77 312.15L409.81 313.12L408.35 313.60L406.90 313.60L405.45 313.12L404.97 312.63L404.48 311.66"/></g>
<g><title>5173.30</title><path class="t" d="M438.30 303.44L433.46 303.44L432.98 307.79L433.46 307.31L434.91 306.82L436.36 306.82L437.82 307.31L438.78 308.28L439.27 309.73L439.27 310.70L438.78 312.15L437.82 313.12L436.36 313.60L434.91 313.60L433.46 313.12L432.98 312.63L432.49 311.66M443.62 305.37L444.59 304.89L446.04 303.44L446.04 313.60M458.63 303.44L453.79 313.60M451.85 303.44L458.63 303.44M462.50 303.44L467.82 303.44L464.92 307.31L466.37 307.31L467.34 307.79L467.82 308.28L468.31 309.73L468.31 310.70L467.82 312.15L466.86 313.12L465.40 313.60L463.95 313.60L462.50 313.12L462.02 312.63L461.53 311.66M472.18 312.63L471.70 313.12L472.18 313.60L472.66 313.12L472.18 312.63M477.02 303.44L482.34 303.44L479.44 307.31L480.89 307.31L481.86 307.79L482.34 308.28L482.83 309.73L482.83 310.70L482.34 312.15L481.38 313.12L479.92 313.60L478.47 313.60L477.02 313.12L476.54 312.63L476.05 311.66M488.64 303.44L487.18 303.92L486.22 305.37L485.73 307.79L485.73 309.24L486.22 311.66L487.18 313.12L488.64 313.60L489.60 313.60L491.06 313.12L492.02 311.66L492.51 309.24L492.51 307.79L492.02 305.37L491.06 303.92L489.60 303.44L488.64 303.44"/></g>
<g><title>Wavelength (Å)</title><path class="t" d="M80.44 322.24L82.86 332.40M85.28 322.24L82.86 332.40M85.28 322.24L87.70 332.40M90.12 322.24L87.70 332.40M98.35 325.62L98.35 332.40M98.35 327.08L97.38 326.11L96.41 325.62L94.96 325.62L93.99 326.11L93.02 327.08L92.54 328.53L92.54 329.50L93.02 330.95L93.99 331.92L94.96 332.40L96.41 332.40L97.38 331.92L98.35 330.95M101.25 325.62L104.16 332.40M107.06 325.62L104.16 332.40M109.48 328.53L115.29 328.53L115.29 327.56L114.80 326.59L114.32 326.11L113.35 325.62L111.90 325.62L110.93 326.11L109.96 327.08L109.48 328.53L109.48 329.50L109.96 330.95L110.93 331.92L111.90 332.40L113.35 332.40L114.32 331.92L115.29 330.95M118.68 322.24L118.68 332.40M122.06 328.53L127.87 328.53L127.87 327.56L127.39 326.59L126.90 326.11L125.94 325.62L124.48 325.62L123.52 326.11L122.55 327.08L122.06 328.53L122.06 329.50L122.55 330.95L123.52 331.92L124.48 332.40L125.94 332.40L126.90 331.92L127.87 330.95M131.26 325.62L131.26 332.40M131.26 327.56L132.71 326.11L133.68 325.62L135.13 325.62L136.10 326.11L136.58 327.56L136.58 332.40M145.78 325.62L145.78 333.37L145.30 334.82L144.81 335.30L143.84 335.79L142.39 335.79L141.42 335.30M145.78 327.08L144.81 326.11L143.84 325.62L142.39 325.62L141.42 326.11L140.46 327.08L139.97 328.53L139.97 329.50L140.46 330.95L141.42 331.92L142.39 332.40L143.84 332.40L144.81 331.92L145.78 330.95M150.14 322.24L150.14 330.46L150.62 331.92L151.59 332.40L152.56 332.40M148.68 325.62L152.07 325.62M155.46 322.24L155.46 332.40M155.46 327.56L156.91 326.11L157.88 325.62L159.33 325.62L160.30 326.11L160.78 327.56L160.78 332.40M175.79 320.30L174.82 321.27L173.85 322.72L172.88 324.66L172.40 327.08L172.40 329.01L172.88 331.43L173.85 333.37L174.82 334.82L175.79 335.79M181.60 322.24L177.72 332.40M181.60 322.24L185.47 332.40M179.18 329.01L184.02 329.01M182.66 320.06L182.35 319.58L181.60 319.38L180.84 319.58L180.53 320.06L180.84 320.54L181.60 320.74L182.35 320.54L182.66 320.06M187.40 320.30L188.37 321.27L189.34 322.72L190.31 324.66L190.79 327.08L190.79 329.01L190.31 331.43L189.34 333.37L188.37 334.82L187.40 335.79"/></g>
<g><title>Wavelength (Å)</title><path class="t" d="M325.74 322.24L328.16 332.40M330.58 322.24L328.16 332.40M330.58 322.24L333.00 332.40M335.42 322.24L333.00 332.40M343.65 325.62L343.65 332.40M343.65 327.08L342.68 326.11L341.71 325.62L340.26 325.62L339.29 326.11L338.32 327.08L337.84 328.53L337.84 329.50L338.32 330.95L339.29 331.92L340.26 332.40L341.71 332.40L342.68 331.92L343.65 330.95M346.55 325.62L349.46 332.40M352.36 325.62L349.46 332.40M354.78 328.53L360.59 328.53L360.59 327.56L360.10 326.59L359.62 326.11L358.65 325.62L357.20 325.62L356.23 326.11L355.26 327.08L354.78 328.53L354.78 329.50L355.26 330.95L356.23 331.92L357.20 332.40L358.65 332.40L359.62 331.92L360.59 330.95M363.98 322.24L363.98 332.40M367.36 328.53L373.17 328.53L373.17 327.56L372.69 326.59L372.20 326.11L371.24 325.62L369.78 325.62L368.82 326.11L367.85 327.08L367.36 328.53L367.36 329.50L367.85 330.95L368.82 331.92L369.78 332.40L371.24 332.40L372.20 331.92L373.17 330.95M376.56 325.62L376.56 332.40M376.56 327.56L378.01 326.11L378.98 325.62L380.43 325.62L381.40 326.11L381.88 327.56L381.88 332.40M391.08 325.62L391.08 333.37L390.60 334.82L390.11 335.30L389.14 335.79L387.69 335.79L386.72 335.30M391.08 327.08L390.11 326.11L389.14 325.62L387.69 325.62L386.72 326.11L385.76 327.08L385.27 328.53L385.27 329.50L385.76 330.95L386.72 331.92L387.69 332.40L389.14 332.40L390.11 331.92L391.08 330.95M395.44 322.24L395.44 330.46L395.92 331.92L396.89 332.40L397.86 332.40M393.98 325.62L397.37 325.62M400.76 322.24L400.76 332.40M400.76 327.56L402.21 326.11L403.18 325.62L404.63 325.62L405.60 326.11L406.08 327.56L406.08 332.40M421.09 320.30L420.12 321.27L419.15 322.72L418.18 324.66L417.70 327.08L417.70 329.01L418.18 331.43L419.15 333.37L420.12 334.82L421.09 335.79M426.90 322.24L423.02 332.40M426.90 322.24L430.77 332.40M424.48 329.01L429.32 329.01M427.96 320.06L427.65 319.58L426.90 319.38L426.14 319.58L425.83 320.06L426.14 320.54L426.90 320.74L427.65 320.54L427.96 320.06M432.70 320.30L433.67 321.27L434.64 322.72L435.61 324.66L436.09 327.08L436.09 329.01L435.61 331.43L434.64 333.37L433.67 334.82L432.70 335.79"/></g>
<g><title>Relative flux</title><path class="t" d="M2.44 205.13L12.60 205.13M2.44 205.13L2.44 200.77L2.92 199.32L3.40 198.84L4.37 198.35L5.34 198.35L6.31 198.84L6.79 199.32L7.28 200.77L7.28 205.13M7.28 201.74L12.60 198.35M8.73 195.45L8.73 189.64L7.76 189.64L6.79 190.12L6.31 190.61L5.82 191.58L5.82 193.03L6.31 194.00L7.28 194.96L8.73 195.45L9.70 195.45L11.15 194.96L12.12 194.00L12.60 193.03L12.60 191.58L12.12 190.61L11.15 189.64M2.44 186.25L12.60 186.25M5.82 177.06L12.60 177.06M7.28 177.06L6.31 178.02L5.82 178.99L5.82 180.44L6.31 181.41L7.28 182.38L8.73 182.86L9.70 182.86L11.15 182.38L12.12 181.41L12.60 180.44L12.60 178.99L12.12 178.02L11.15 177.06M2.44 172.70L10.66 172.70L12.12 172.22L12.60 171.25L12.60 170.28M5.82 174.15L5.82 170.76M1.95 167.86L2.44 167.38L1.95 166.89L1.47 167.38L1.95 167.86M5.82 167.38L12.60 167.38M5.82 164.47L12.60 161.57M5.82 158.66L12.60 161.57M8.73 156.24L8.73 150.44L7.76 150.44L6.79 150.92L6.31 151.40L5.82 152.37L5.82 153.82L6.31 154.79L7.28 155.76L8.73 156.24L9.70 156.24L11.15 155.76L12.12 154.79L12.60 153.82L12.60 152.37L12.12 151.40L11.15 150.44M2.44 136.40L2.44 137.37L2.92 138.34L4.37 138.82L12.60 138.82M5.82 140.27L5.82 136.88M2.44 133.50L12.60 133.50M5.82 129.62L10.66 129.62L12.12 129.14L12.60 128.17L12.60 126.72L12.12 125.75L10.66 124.30M5.82 124.30L12.60 124.30M5.82 120.91L12.60 115.59M5.82 115.59L12.60 120.91"/></g>
</svg>
</body></html>
